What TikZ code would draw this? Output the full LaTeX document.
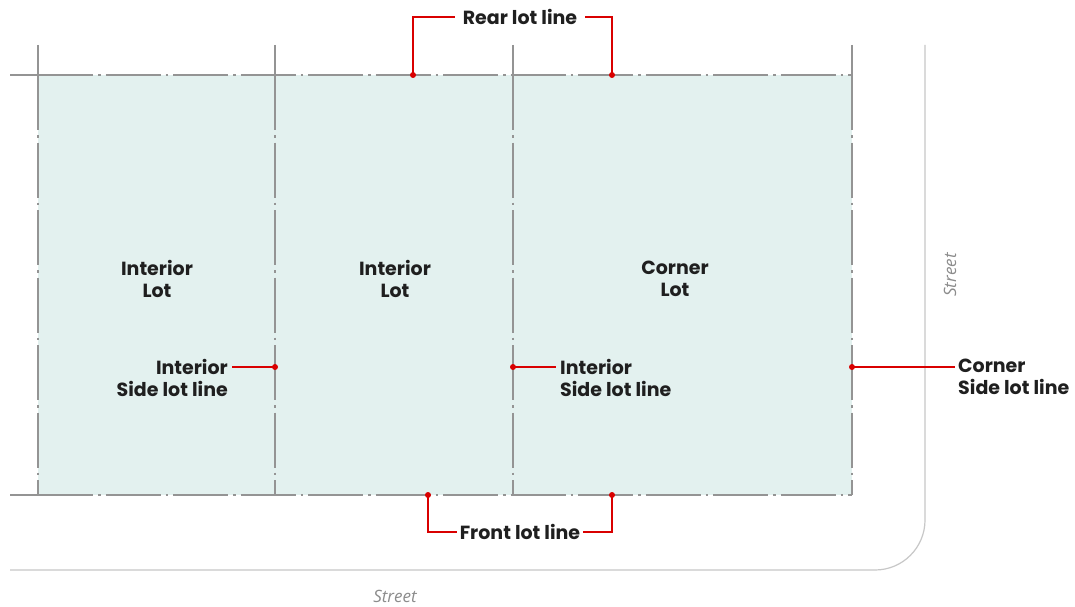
\documentclass[tikz,border=0pt]{standalone}
\usepackage{fontspec}
\setmainfont{Poppins}
\newfontfamily\streetfont{Open Sans}
\begin{document}
\begin{tikzpicture}[x=1pt,y=-1pt,
  lotline/.style={draw=black!42,line width=1.1pt,dash pattern=on 55pt off 5pt on 2.5pt off 5pt},
  solidline/.style={draw=black!42,line width=1.1pt},
  streetline/.style={draw=black!22,line width=1.2pt},
  leader/.style={draw=red!85!black,line width=1.3pt},
  dot/.style={circle,fill=red!85!black,inner sep=0pt,minimum size=6pt},
  lbl/.style={font=\bfseries\fontsize{19}{22}\selectfont,text=black!88,inner sep=0pt,align=center},
  street/.style={font=\streetfont\itshape\fontsize{17}{19}\selectfont,text=black!45,inner sep=0pt}]
\useasboundingbox (0,0) rectangle (1075,607);
\fill[white] (0,0) rectangle (1075,607);
% lots
\fill[fill={rgb,255:red,227;green,241;blue,239}] (38,75) rectangle (852,495);
% street edges
\draw[streetline] (925,45) -- (925,520) arc[start angle=0,end angle=90,radius=50] -- (10,570);
% lot lines
\foreach \x in {38,275,513,852}{
  \draw[solidline] (\x,45) -- (\x,75);
  \draw[lotline] (\x,75) -- (\x,495);
}
\draw[solidline] (10,75) -- (38,75);
\draw[lotline] (38,75) -- (852,75);
\draw[solidline] (10,495) -- (38,495);
\draw[lotline] (38,495) -- (852,495);
% lot labels
\node[lbl] (l1) at (157,279) {Interior\\Lot};
\node[lbl] (l2) at (395,279) {Interior\\Lot};
\node[lbl] (l3) at (675,279) {Corner\\Lot};
% rear lot line
\node[lbl] (rear) at (520,17) {Rear lot line};
\node[dot] (r1) at (413,75) {};
\node[dot] (r2) at (612,75) {};
\draw[leader] (r1.center) |- ([xshift=-8pt]rear.west);
\draw[leader] (r2.center) |- ([xshift=8pt]rear.east);
% front lot line
\node[lbl] (front) at (520,532) {Front lot line};
\node[dot] (f1) at (428,495) {};
\node[dot] (f2) at (612,495) {};
\draw[leader] (f1.center) |- ([xshift=-3pt]front.west);
\draw[leader] (f2.center) |- ([xshift=3pt]front.east);
% side lot lines
\node[dot] (s1) at (275,367) {};
\node[lbl,anchor=north east,align=right] (t1) at (228,359) {Interior\\Side lot line};
\draw[leader] (s1.center) -- (232,367);
\node[dot] (s2) at (513,367) {};
\node[lbl,anchor=north west,align=left] (t2) at (560,359) {Interior\\Side lot line};
\draw[leader] (s2.center) -- (556,367);
\node[dot] (s3) at (852,367) {};
\node[lbl,anchor=north west,align=left] (t3) at (958,359) {Corner\\Side lot line};
\draw[leader] (s3.center) -- (955,367);
% street labels
\node[street] (st1) at (395,596) {Street};
\node[street,rotate=90] (st2) at (950,275) {Street};
\end{tikzpicture}
\end{document}
